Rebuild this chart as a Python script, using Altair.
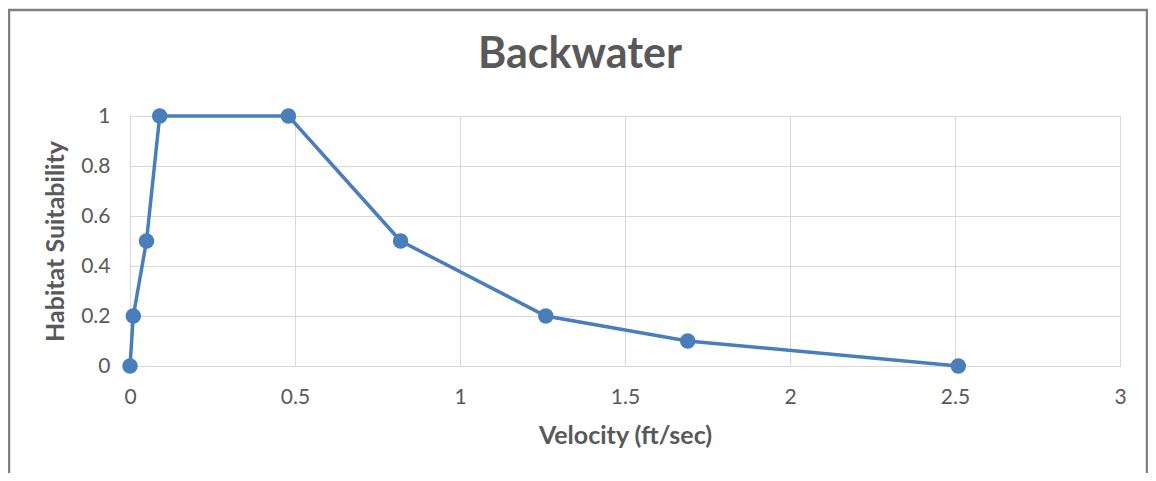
import altair as alt
import pandas as pd

velocity = [0.0, 0.01, 0.05, 0.09, 0.48, 0.82, 1.26, 1.69, 2.51]
suitability = [0.0, 0.2, 0.5, 1.0, 1.0, 0.5, 0.2, 0.1, 0.0]
x_ticks = [0, 0.5, 1, 1.5, 2, 2.5, 3]
y_ticks = [0, 0.2, 0.4, 0.6, 0.8, 1]

df = pd.DataFrame({"v": velocity, "s": suitability})

FONT = "Lato"
GRAY = "#595959"
BLUE = "#4A7EBB"

x_enc = alt.X("v:Q", title="Velocity (ft/sec)",
              scale=alt.Scale(domain=[0, 3], nice=False, zero=False),
              axis=alt.Axis(values=x_ticks, format="~g", labelFontSize=21,
                            labelColor=GRAY, labelFont=FONT, ticks=False,
                            labelFlush=False,
                            domainColor="#d9d9d9", gridColor="#d9d9d9",
                            labelPadding=20, titleFont=FONT, titleFontSize=25,
                            titleColor=GRAY, titleFontWeight="bold",
                            titlePadding=16))
y_enc = alt.Y("s:Q", title="Habitat Suitability",
              scale=alt.Scale(domain=[0, 1], nice=False),
              axis=alt.Axis(values=y_ticks, format="~g", labelFontSize=21,
                            labelColor=GRAY, labelFont=FONT, ticks=False,
                            labelFlush=False,
                            domainColor="#d9d9d9", gridColor="#d9d9d9",
                            labelPadding=20, titleFont=FONT, titleFontSize=25,
                            titleColor=GRAY, titleFontWeight="bold",
                            titlePadding=12))

line = alt.Chart(df).mark_line(color=BLUE, strokeWidth=3.5).encode(x=x_enc, y=y_enc)
pts = alt.Chart(df).mark_point(filled=True, color=BLUE, size=240,
                               opacity=1).encode(x="v:Q", y="s:Q")

frame = alt.Chart(pd.DataFrame({"a": [0]})).mark_rect(
    filled=False, stroke="#808080", strokeWidth=2.5
).encode(x=alt.value(-121), x2=alt.value(1017),
         y=alt.value(-106), y2=alt.value(420))

chart = alt.layer(frame, line, pts).properties(
    width=990, height=250,
    title=alt.TitleParams("Backwater", font=FONT, fontSize=43,
                          fontWeight="bold", color=GRAY, anchor="middle",
                          dx=-45, offset=-68),
    autosize=alt.AutoSizeParams(type="none"),
    padding={"left": 122, "top": 108, "right": 28, "bottom": 107},
).configure_view(stroke="#d9d9d9")

chart.save("out.html", embed_options={"renderer": "svg", "actions": False})
